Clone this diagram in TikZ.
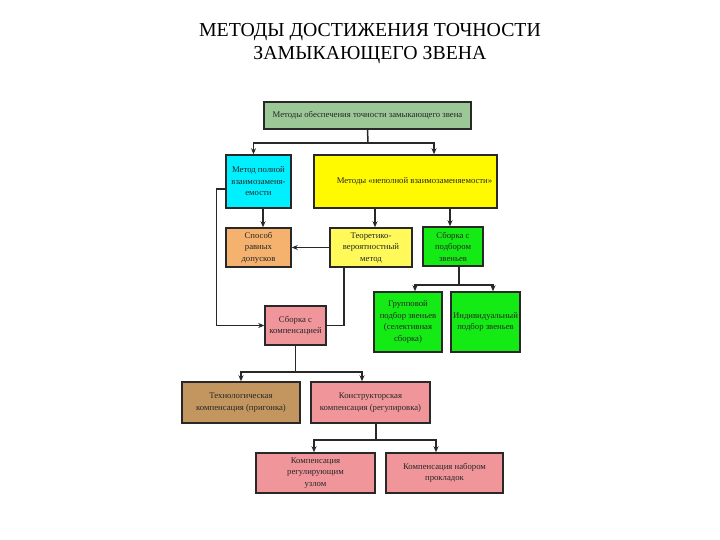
\documentclass[tikz,border=0pt]{standalone}
\usepackage{fontspec}
\setmainfont{Liberation Serif}
\usetikzlibrary{arrows.meta}
\definecolor{cTop}{RGB}{155,200,150}
\definecolor{cCyan}{RGB}{0,240,255}
\definecolor{cYel}{RGB}{255,250,0}
\definecolor{cYelL}{RGB}{255,250,90}
\definecolor{cOra}{RGB}{245,178,110}
\definecolor{cGrn}{RGB}{20,235,20}
\definecolor{cPink}{RGB}{240,150,155}
\definecolor{cTan}{RGB}{195,150,95}
\definecolor{cLine}{RGB}{40,40,40}
\tikzset{
  box/.style={draw=cLine, line width=1.5pt, align=center, inner sep=1pt,
    font=\fontsize{8.7}{11.5}\selectfont, text=black!85},
  conn/.style={draw=cLine, line width=1.5pt},
  arr/.style={conn, -{Stealth[length=6pt,width=5pt]}},
}
\begin{document}
\begin{tikzpicture}[x=1pt,y=-1pt]
\useasboundingbox[fill=white] (0,0) rectangle (720,540);
\node[font=\fontsize{19.8}{23}\selectfont, align=center] (title) at (370,44)
  {МЕТОДЫ ДОСТИЖЕНИЯ ТОЧНОСТИ\\ЗАМЫКАЮЩЕГО ЗВЕНА};

\node[box, fill=cTop, minimum width=207pt, minimum height=27pt] (top) at (367.5,115.5)
  {Методы обеспечения точности замыкающего звена};
\node[box, fill=cCyan, minimum width=65pt, minimum height=53pt] (cyan) at (258.5,181.5)
  {Метод полной\\взаимозаменя-\\емости};
\node[box, fill=cYel, minimum width=183pt, minimum height=53pt] (yel) at (405.5,181.5)
  {\hspace*{18pt}Методы «неполной взаимозаменяемости»};
\node[box, fill=cOra, minimum width=65pt, minimum height=39pt] (ora) at (258.5,247.5)
  {Способ\\равных\\допусков};
\node[box, fill=cYelL, minimum width=82pt, minimum height=39pt] (ysm) at (371,247.5)
  {Теоретико-\\вероятностный\\метод};
\node[box, fill=cGrn, minimum width=60pt, minimum height=39pt] (grn) at (453,246.5)
  {Сборка с\\подбором\\звеньев};
\node[box, fill=cGrn, minimum width=68pt, minimum height=60pt] (grp) at (408,322)
  {Групповой\\подбор звеньев\\(селективная\\сборка)};
\node[box, fill=cGrn, minimum width=69pt, minimum height=60pt] (ind) at (485.5,322)
  {Индивидуальный\\подбор звеньев};
\node[box, fill=cPink, minimum width=61pt, minimum height=39pt] (comp) at (295.5,325.5)
  {Сборка с\\компенсацией};
\node[box, fill=cTan, minimum width=118pt, minimum height=41pt] (tech) at (241,402.5)
  {Технологическая\\компенсация (пригонка)};
\node[box, fill=cPink, minimum width=119pt, minimum height=41pt] (constr) at (370.5,402.5)
  {Конструкторская\\компенсация (регулировка)};
\node[box, fill=cPink, minimum width=119pt, minimum height=40pt] (regu) at (315.5,473)
  {Компенсация\\регулирующим\\узлом};
\node[box, fill=cPink, minimum width=117pt, minimum height=40pt] (prok) at (444.5,473)
  {Компенсация набором\\прокладок};

% connectors
\coordinate (j1) at (368,143);
\draw[conn] (top.south) -- (j1);
\draw[arr] (j1) -| ([xshift=-5pt]cyan.north);
\draw[arr] (j1) -| ([xshift=28.5pt]yel.north);
\draw[arr] ([xshift=4.5pt]cyan.south) -- ([xshift=4.5pt]ora.north);
\draw[arr] ([xshift=4pt]ysm.north |- yel.south) -- ([xshift=4pt]ysm.north);
\draw[arr] ([xshift=-3pt]grn.north |- yel.south) -- ([xshift=-3pt]grn.north);
\draw[arr] (ysm.west) -- (ora.east);
\draw[conn] ([xshift=-27pt]ysm.south) |- (comp.east);
\draw[arr] ([yshift=-7.5pt]cyan.west) -- ++(-9,0) |- (comp.west);
\coordinate (j2) at (459,285);
\draw[conn] ([xshift=6pt]grn.south) -- (j2);
\draw[arr] (j2) -| ([xshift=7pt]grp.north);
\draw[arr] (j2) -| ([xshift=7.5pt]ind.north);
\coordinate (j3) at (295.5,372);
\draw[conn] (comp.south) -- (j3);
\draw[arr] (j3) -| (tech.north);
\draw[arr] (j3) -| ([xshift=-8.5pt]constr.north);
\coordinate (j4) at (376,440);
\draw[conn] ([xshift=5.5pt]constr.south) -- (j4);
\draw[arr] (j4) -| ([xshift=-1.5pt]regu.north);
\draw[arr] (j4) -| ([xshift=-8.5pt]prok.north);
\end{tikzpicture}
\end{document}
